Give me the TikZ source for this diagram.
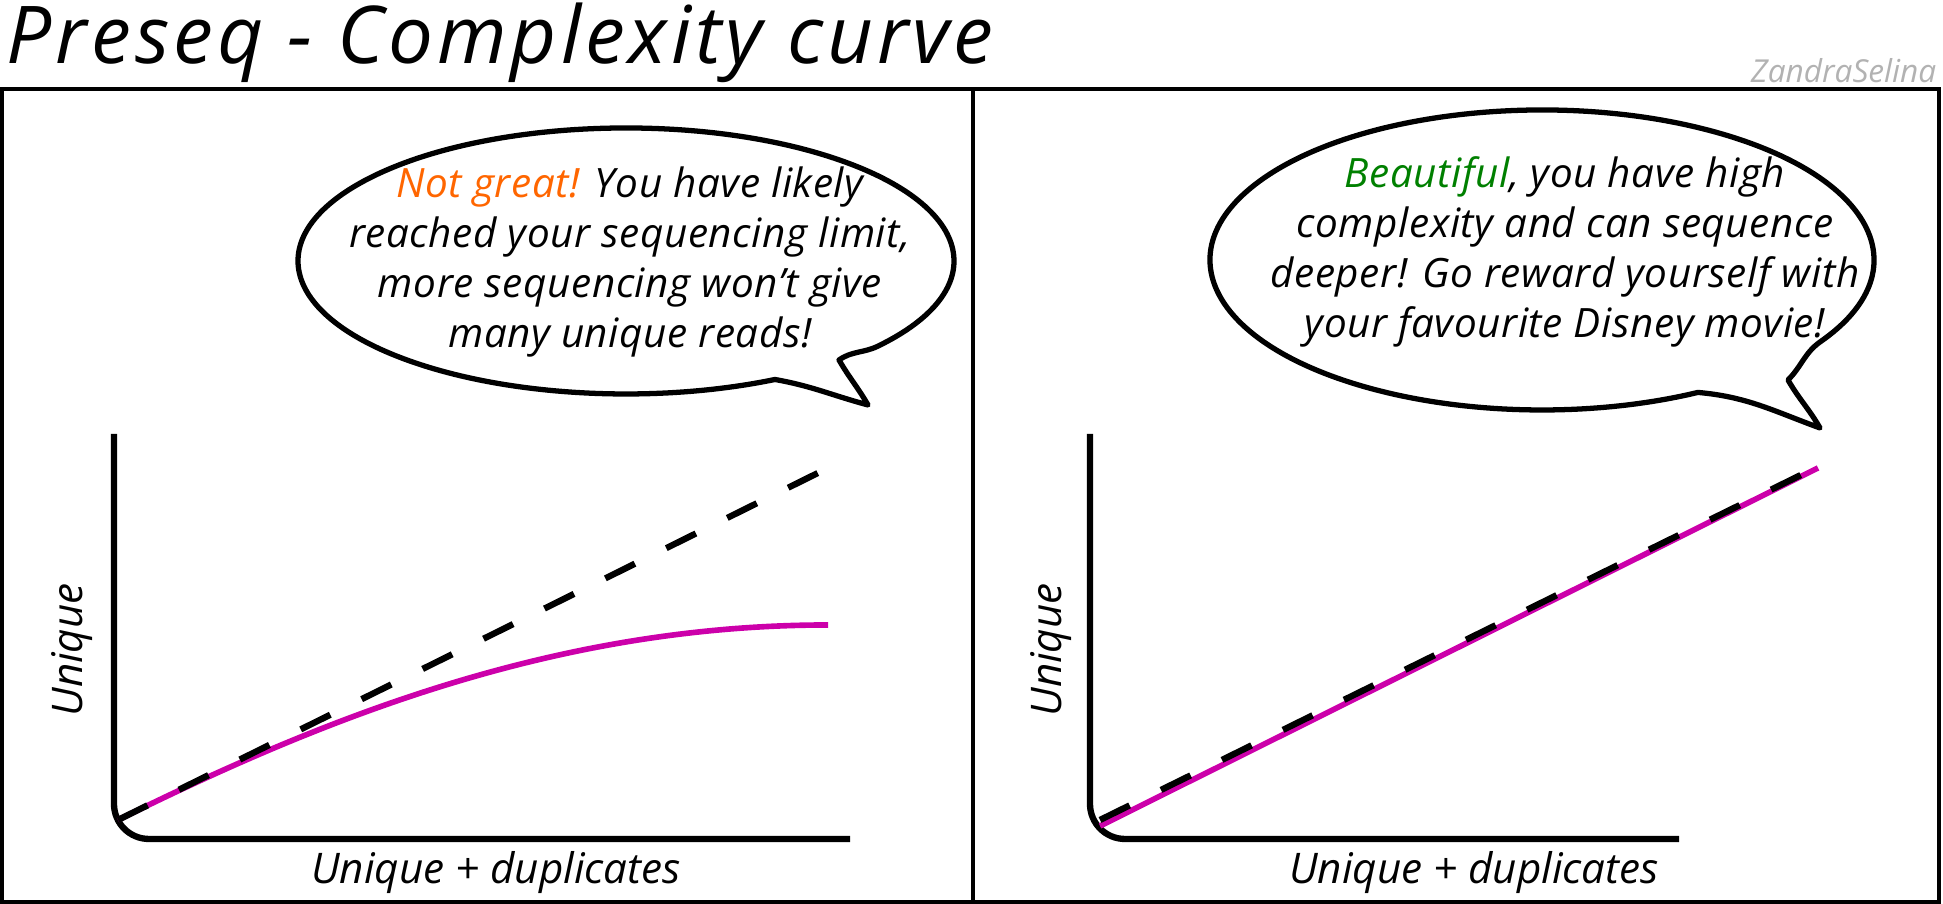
\documentclass[tikz,border=0pt]{standalone}
\usepackage{fontspec}
\setmainfont{Open Sans}
\usepackage{xcolor}
\usetikzlibrary{calc}
\definecolor{notgreat}{RGB}{255,102,0}
\definecolor{beautiful}{RGB}{0,128,0}
\definecolor{curvepink}{RGB}{204,0,170}
\definecolor{signgray}{RGB}{178,178,178}
\tikzstyle{panel} = [draw=black, line width=0.9pt]
\tikzstyle{axis} = [draw=black, line width=1.8pt, rounded corners=3.5mm]
\tikzstyle{speech} = [draw=black, fill=white, line width=1.5pt, line join=round]
\tikzstyle{saying} = [align=center, inner sep=0pt, font=\itshape\fontsize{11.5}{14.2}\selectfont\addfontfeature{LetterSpace=1.5}]
\tikzstyle{ideal} = [draw=black, line width=1.8pt, dash pattern=on 3.3mm off 3.5mm]
\tikzstyle{observed} = [draw=curvepink, line width=1.6pt]
\tikzstyle{axislabel} = [inner sep=0pt, font=\itshape\fontsize{12}{14}\selectfont]

\begin{document}
\begin{tikzpicture}[x=0.1mm, y=0.1mm]
\useasboundingbox (0,0) rectangle (1943,904);
% title and frame
\node[anchor=base west, inner sep=0pt, font=\itshape\fontsize{22.7}{27}\selectfont\addfontfeature{LetterSpace=5}] (title) at (6,840) {Preseq - Complexity curve};
\node[anchor=base east, inner sep=0pt, text=signgray, font=\itshape\fontsize{9}{11}\selectfont] (sign) at (1937,821) {ZandraSelina};
\draw[panel] (2,2) rectangle (1939,815);
\draw[panel] (973,2) -- (973,815);

% left panel: saturated library
\coordinate (bubA) at (626,643);
\coordinate (tipA) at (868,499);
\coordinate (notchA) at (839,544);
\draw[speech] ($(bubA)+(-40:328 and 133)$) arc[start angle=-40, end angle=297, x radius=328, y radius=133]
    to[out=-10, in=165] (tipA) to[out=120, in=-60] (notchA) to[out=35, in=205] cycle;
\node[saying] (textA) at (630,642) {\textcolor{notgreat}{Not great!} You have likely\\
    reached your sequencing limit,\\ more sequencing won't give\\ many unique reads!};
\draw[axis] (114,470) -- (114,65) -- (850,65);
\draw[observed] (118,84) .. controls (330,189) and (560,279) .. (828,279);
\draw[ideal] (118,84) -- (828,436);
\node[axislabel, rotate=90] (yA) at (72,254) {Unique};
\node[axislabel] (xA) at (496,31) {Unique + duplicates};

% right panel: complex library
\coordinate (bubB) at (1542,644);
\coordinate (tipB) at (1820,476);
\coordinate (notchB) at (1788,524);
\draw[speech] ($(bubB)+(-33:332 and 150)$) arc[start angle=-33, end angle=298, x radius=332, y radius=150]
    to[out=-5, in=160] (tipB) to[out=120, in=-60] (notchB) to[out=45, in=215] cycle;
\node[saying] (textB) at (1565,652) {\textcolor{beautiful}{Beautiful}, you have high\\
    complexity and can sequence\\ deeper! Go reward yourself with\\ your favourite Disney movie!};
\draw[axis] (1090,470) -- (1090,65) -- (1679,65);
\draw[observed] (1100,78) -- (1818,436);
\draw[ideal] (1100,84) -- (1809,433);
\node[axislabel, rotate=90] (yB) at (1051,254) {Unique};
\node[axislabel] (xB) at (1474,31) {Unique + duplicates};
\end{tikzpicture}
\end{document}
